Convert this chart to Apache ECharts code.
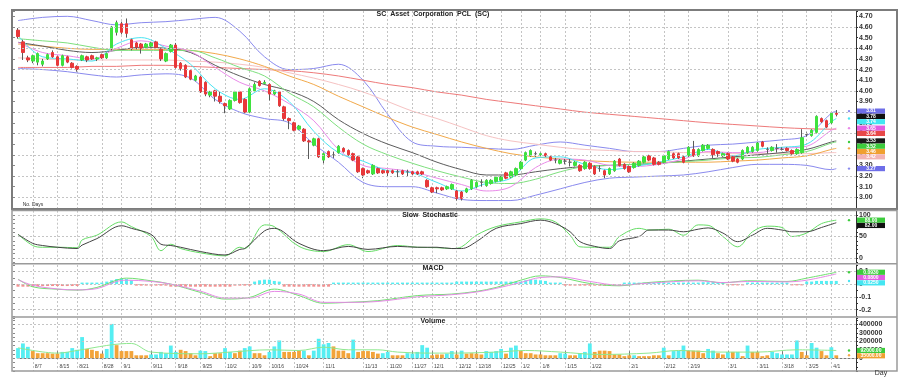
<!DOCTYPE html>
<html><head><meta charset="utf-8">
<script src="https://cdn.jsdelivr.net/npm/echarts@6/dist/echarts.min.js"></script>
<style>html,body{margin:0;padding:0;background:#fff}#c{width:910px;height:388px}</style>
</head><body><div id="c"></div>
<script>
// ---------- categories (trading days) ----------
const dates = ['8/2','8/3','8/4','8/7','8/8','8/9','8/10','8/11','8/15','8/16','8/17','8/18','8/21','8/22','8/23','8/24','8/25','8/28','8/29','8/30','8/31',
'9/1','9/4','9/5','9/6','9/7','9/8','9/11','9/12','9/13','9/14','9/15','9/18','9/19','9/20','9/21','9/22','9/25','9/26','9/27','9/28','9/29',
'10/2','10/3','10/4','10/5','10/6','10/9','10/10','10/11','10/12','10/16','10/17','10/18','10/19','10/20','10/24','10/25','10/26','10/27','10/30','10/31',
'11/1','11/2','11/3','11/6','11/7','11/8','11/9','11/10','11/13','11/14','11/15','11/16','11/17','11/20','11/21','11/22','11/23','11/24','11/27','11/28','11/29','11/30',
'12/1','12/4','12/6','12/7','12/8','12/12','12/13','12/14','12/15','12/18','12/19','12/20','12/21','12/22','12/25','12/26','12/27','12/28',
'1/2','1/3','1/4','1/5','1/8','1/9','1/10','1/11','1/12','1/15','1/16','1/17','1/18','1/19','1/22','1/23','1/24','1/25','1/26','1/29','1/30','1/31',
'2/1','2/2','2/5','2/6','2/7','2/8','2/9','2/12','2/13','2/14','2/15','2/16','2/19','2/20','2/21','2/22','2/23','2/27','2/28','2/29',
'3/1','3/4','3/5','3/6','3/7','3/8','3/11','3/12','3/13','3/14','3/15','3/18','3/19','3/20','3/21','3/22','3/25','3/26','3/27','3/28','3/29',
'4/1','4/2'];
const padCats = ['x1','x2','x3','x4'];
const tickDates = ['8/7','8/15','8/21','8/28','9/1','9/11','9/18','9/25','10/2','10/9','10/16','10/24','11/1','11/13','11/20','11/27','12/1','12/12','12/18','12/25','1/2','1/8','1/15','1/22','2/1','2/12','2/19','3/1','3/11','3/18','3/25','4/1'];

// ---------- price candles ----------
const open = [4.57,4.46,4.31,4.28,4.27,4.25,4.30,4.36,4.32,4.24, 4.32,4.26,4.23,4.29,4.32,4.33,4.30,4.34,4.31,4.40,
4.55,4.63,4.63,4.48,4.45,4.44,4.41,4.42,4.46,4.39, 4.28,4.37,4.43,4.26,4.24,4.19,4.10,4.13,4.08,3.96,
4.00,3.95,3.88,3.83,3.91,3.99,3.92,3.80,4.00,4.09, 4.07,4.06,3.97,3.99,3.85,3.74,3.70,3.64,3.64,3.53,
3.49,3.55,3.35,3.43,3.40,3.42,3.46,3.44,3.41,3.38, 3.27,3.25,3.22,3.27,3.25,3.25,3.25,3.24,3.25,3.24,
3.24,3.24,3.24,3.16,3.09,3.09,3.09,3.08,3.08,3.06, 3.05,3.05,3.08,3.10,3.14,3.11,3.13,3.15,3.16,3.23,
3.19,3.21,3.27,3.35,3.39,3.41,3.40,3.41,3.38,3.35, 3.32,3.34,3.33,3.30,3.30,3.27,3.32,3.29,3.27,3.25,
3.22,3.25,3.36,3.31,3.29,3.28,3.30,3.33,3.39,3.37, 3.33,3.33,3.36,3.41,3.41,3.38,3.39,3.45,3.39,3.44,
3.46,3.45,3.43,3.39,3.41,3.38,3.36,3.36,3.42,3.43, 3.44,3.52,3.45,3.44,3.46,3.45,3.46,3.44,3.41,3.42,
3.59,3.58,3.61,3.74,3.72,3.70,3.79];
const close = [4.51,4.36,4.29,4.33,4.35,4.28,4.34,4.32,4.24,4.33, 4.27,4.22,4.20,4.33,4.29,4.30,4.31,4.31,4.35,4.60,
4.64,4.55,4.54,4.40,4.41,4.40,4.44,4.45,4.41,4.30, 4.35,4.43,4.22,4.21,4.13,4.11,4.14,3.99,3.97,3.99,
3.95,3.90,3.86,3.91,3.99,3.89,3.80,4.02,4.06,4.05, 4.08,3.97,4.00,3.86,3.74,3.72,3.63,3.67,3.53,3.52,
3.55,3.38,3.41,3.38,3.40,3.48,3.43,3.40,3.35,3.24, 3.21,3.23,3.30,3.23,3.23,3.23,3.23,3.24,3.22,3.24,
3.22,3.22,3.22,3.10,3.05,3.08,3.07,3.10,3.12,2.99, 2.99,3.08,3.16,3.14,3.14,3.16,3.16,3.19,3.19,3.18,
3.24,3.27,3.33,3.42,3.44,3.41,3.41,3.39,3.35,3.35, 3.35,3.34,3.33,3.33,3.25,3.33,3.27,3.22,3.27,3.21,
3.27,3.34,3.30,3.27,3.24,3.32,3.34,3.38,3.35,3.31, 3.31,3.39,3.43,3.37,3.37,3.33,3.47,3.39,3.45,3.49,
3.49,3.40,3.41,3.41,3.36,3.34,3.33,3.44,3.47,3.47, 3.51,3.48,3.45,3.47,3.46,3.45,3.44,3.41,3.45,3.56,
3.59,3.63,3.76,3.71,3.66,3.79,3.78];
const low = [4.49,4.29,4.27,4.26,4.24,4.23,4.29,4.31,4.23,4.23, 4.26,4.21,4.18,4.28,4.27,4.29,4.28,4.30,4.30,4.38,
4.52,4.53,4.50,4.38,4.39,4.35,4.40,4.41,4.40,4.28, 4.27,4.36,4.21,4.19,4.12,4.10,4.09,3.98,3.95,3.94,
3.90,3.88,3.79,3.82,3.90,3.88,3.79,3.79,3.99,4.04, 4.06,3.91,3.96,3.85,3.72,3.64,3.62,3.63,3.52,3.36,
3.48,3.37,3.32,3.37,3.37,3.41,3.42,3.39,3.34,3.23, 3.18,3.22,3.21,3.22,3.22,3.19,3.22,3.19,3.21,3.20,
3.21,3.21,3.21,3.09,3.04,3.04,3.06,3.07,3.07,2.97, 2.97,3.04,3.07,3.09,3.10,3.10,3.12,3.14,3.15,3.17,
3.18,3.20,3.26,3.34,3.38,3.38,3.39,3.38,3.34,3.32, 3.31,3.31,3.29,3.29,3.24,3.26,3.26,3.21,3.24,3.18,
3.21,3.24,3.29,3.26,3.23,3.27,3.29,3.32,3.34,3.30, 3.30,3.32,3.35,3.36,3.36,3.32,3.38,3.38,3.38,3.43,
3.45,3.37,3.38,3.38,3.35,3.33,3.32,3.35,3.41,3.42, 3.43,3.47,3.41,3.43,3.42,3.44,3.43,3.40,3.40,3.41,
3.57,3.57,3.60,3.70,3.65,3.69,3.76];
const high = [4.59,4.48,4.33,4.34,4.36,4.30,4.35,4.38,4.33,4.34, 4.33,4.27,4.24,4.34,4.33,4.34,4.32,4.35,4.36,4.61,
4.66,4.65,4.68,4.49,4.46,4.45,4.45,4.46,4.47,4.40, 4.36,4.44,4.45,4.27,4.25,4.20,4.15,4.14,4.09,4.00,
4.01,3.99,3.89,3.92,4.00,4.00,3.93,4.03,4.08,4.10, 4.10,4.07,4.01,4.00,3.86,3.75,3.71,3.68,3.65,3.54,
3.56,3.56,3.42,3.44,3.43,3.49,3.47,3.45,3.42,3.39, 3.28,3.26,3.31,3.28,3.26,3.26,3.26,3.26,3.26,3.26,
3.25,3.25,3.25,3.17,3.10,3.10,3.10,3.11,3.13,3.07, 3.06,3.09,3.17,3.15,3.17,3.17,3.17,3.20,3.20,3.24,
3.25,3.28,3.34,3.43,3.45,3.43,3.42,3.42,3.39,3.37, 3.36,3.36,3.36,3.34,3.31,3.34,3.33,3.30,3.30,3.26,
3.28,3.35,3.37,3.32,3.30,3.33,3.35,3.39,3.40,3.38, 3.34,3.40,3.44,3.42,3.42,3.39,3.48,3.53,3.46,3.50,
3.50,3.46,3.44,3.42,3.42,3.39,3.37,3.45,3.48,3.48, 3.52,3.53,3.47,3.48,3.50,3.47,3.47,3.45,3.46,3.64,
3.61,3.64,3.77,3.75,3.73,3.80,3.82];

// ---------- overlay lines (read every 5 sessions) ----------
const lineDates = ['8/2','8/9','8/17','8/24','8/31','9/7','9/14','9/21','9/28','10/5','10/12','10/20','10/30','11/6','11/13','11/20','11/27','12/4','12/13','12/20','12/27','1/5','1/12','1/19','1/26','2/2','2/9','2/16','2/23','3/4','3/11','3/18','3/25','4/1','4/2'];
const bbUpper  = [4.66,4.69,4.70,4.66,4.62,4.64,4.65,4.67,4.69,4.56,4.32,4.20,4.21,4.25,4.10,3.78,3.52,3.48,3.47,3.46,3.45,3.49,3.52,3.49,3.46,3.43,3.43,3.46,3.49,3.50,3.52,3.54,3.58,3.79,3.81];
const bbLower  = [4.21,4.20,4.18,4.15,4.13,4.15,4.16,4.12,3.92,3.80,3.74,3.70,3.50,3.33,3.14,3.10,3.10,3.04,2.98,2.97,2.97,3.02,3.08,3.14,3.18,3.19,3.20,3.21,3.24,3.28,3.31,3.31,3.30,3.26,3.27];
const maRed    = [4.22,4.22,4.22,4.23,4.23,4.24,4.24,4.23,4.22,4.21,4.20,4.19,4.17,4.14,4.10,4.06,4.03,3.99,3.96,3.92,3.89,3.86,3.83,3.80,3.78,3.76,3.74,3.72,3.70,3.685,3.67,3.655,3.645,3.64,3.64];
const maPink   = [4.31,4.30,4.29,4.29,4.29,4.29,4.29,4.28,4.27,4.25,4.22,4.17,4.12,4.06,3.99,3.90,3.81,3.74,3.66,3.58,3.53,3.50,3.47,3.45,3.44,3.43,3.43,3.42,3.42,3.41,3.41,3.41,3.41,3.42,3.42];
const maOrange = [4.44,4.42,4.40,4.39,4.39,4.39,4.39,4.38,4.35,4.30,4.23,4.14,4.06,3.95,3.85,3.75,3.66,3.59,3.52,3.46,3.41,3.38,3.36,3.345,3.335,3.33,3.33,3.33,3.33,3.34,3.35,3.37,3.39,3.45,3.46];
const maDark   = [4.456,4.42,4.38,4.36,4.38,4.41,4.40,4.36,4.24,4.14,4.06,4.00,3.90,3.73,3.60,3.50,3.42,3.33,3.26,3.21,3.21,3.24,3.27,3.29,3.30,3.31,3.32,3.34,3.36,3.38,3.40,3.42,3.45,3.52,3.53];
const maGreen  = [4.49,4.47,4.45,4.41,4.38,4.38,4.38,4.38,4.31,4.22,4.14,3.98,3.85,3.66,3.50,3.40,3.32,3.25,3.19,3.14,3.13,3.17,3.24,3.29,3.30,3.31,3.32,3.335,3.35,3.37,3.375,3.40,3.43,3.51,3.52];
const maMagenta= [4.456,4.36,4.33,4.30,4.40,4.47,4.42,4.37,4.22,4.08,4.00,3.88,3.72,3.45,3.30,3.27,3.24,3.18,3.12,3.06,3.10,3.28,3.36,3.35,3.30,3.29,3.31,3.36,3.43,3.42,3.42,3.46,3.48,3.63,3.65];
const maCyan   = [4.52,4.32,4.30,4.28,4.44,4.50,4.40,4.25,4.02,3.92,4.02,3.90,3.62,3.42,3.34,3.25,3.23,3.14,3.06,3.13,3.18,3.37,3.38,3.31,3.26,3.29,3.33,3.38,3.45,3.39,3.45,3.47,3.50,3.71,3.74];

// ---------- slow stochastic ----------
const stochDates = ['8/2','8/7','8/9','8/15','8/21','8/22','8/25','9/1','9/5','9/11','9/13','9/15','9/19','9/25','10/2','10/5','10/6','10/12','10/17','10/25','11/1','11/8','11/14','11/22','11/28','12/4','12/8','12/13','12/18','12/22','1/2','1/8','1/11','1/16','1/18','1/23','1/26','1/30','2/5','2/7','2/13','2/16','2/21','2/23','2/29','3/5','3/8','3/13','3/18','3/20','3/25','3/28','4/2'];
const stochK = [55,29,25,25,24,42,53,84,73,50,17,32,22,12,5,25,22,77,73,27,15,31,15,29,25,24,22,26,53,73,84,91,84,53,26,25,25,50,69,65,67,53,77,76,50,26,61,74,71,50,58,80,88];
const stochD = [55,34,29,25,22,30,45,75,69,55,32,29,25,15,7,20,22,63,69,34,17,27,20,27,25,25,22,22,38,69,80,88,80,61,38,27,22,40,50,65,65,61,67,70,58,38,53,69,65,61,61,71,82];

// ---------- MACD ----------
const macdDates = ['8/2','8/7','8/15','8/21','8/25','8/31','9/4','9/11','9/15','9/25','10/2','10/9','10/17','10/25','11/1','11/8','11/16','11/28','12/8','12/18','12/22','1/2','1/8','1/12','1/22','1/30','2/7','2/21','2/29','3/7','3/19','3/25','4/2'];
const macdLine = [0.039,-0.021,-0.040,-0.047,-0.026,0.031,0.047,0.026,0.000,-0.065,-0.117,-0.104,-0.039,-0.090,-0.150,-0.143,-0.130,-0.090,-0.078,-0.057,-0.026,0.031,0.065,0.052,0.005,-0.013,0.013,0.031,0.010,0.026,0.021,0.047,0.093];
const macdSignal = [0.035,-0.009,-0.038,-0.045,-0.035,0.021,0.031,0.021,0.000,-0.055,-0.109,-0.109,-0.057,-0.078,-0.143,-0.143,-0.136,-0.100,-0.083,-0.062,-0.033,0.013,0.052,0.057,0.021,-0.008,0.008,0.026,0.012,0.021,0.018,0.031,0.080];
const macdHist = [-0.020,-0.020,-0.020,-0.020,-0.015,-0.015,-0.015,-0.015,-0.015,-0.015,-0.015,-0.015,-0.015,
0.012,0.012,0.012,0.012,0.012, 0.020,0.030,0.040,0.045,0.040,0.030,
-0.012,-0.012,-0.012,-0.012,-0.012,-0.012,-0.012,
-0.020,-0.020,-0.020,-0.020,-0.020,-0.020,-0.020,-0.020,-0.020,-0.020,-0.020,-0.020,-0.020,
-0.012,-0.012,-0.012,-0.012, 0.020,0.030,0.035,0.035,0.025,0.020,
-0.020,-0.020,-0.020,-0.020,-0.020,-0.020,-0.020,-0.020,-0.020,-0.020,
0.012,0.012,0.012,0.012,0.012,0.012,0.012,0.012,0.012,0.012,0.012,0.012,0.012,0.012,0.012,0.012,0.012,0.012,0.012,0.012,0.012,0.012,0.012,0.012,0.012,
0.020,0.020,0.020,0.020,0.020,0.020,0.020,0.020,0.020,0.020,0.020,0.020,0.020,0.020,
0.030,0.035,0.035,0.030,0.025, 0.012,0.012,0.012,
-0.012,-0.012,-0.012,-0.012,-0.012,-0.012,-0.012,-0.012,-0.012,-0.012,-0.012,-0.012,
0.012,0.012,0.012,0.012,0.012,0.012,0.012,0.012,0.012,0.012,0.012,0.012,0.012,0.012,0.012,0.012,
0.015,0.015,0.015,0.015,0.015, -0.010,-0.010,-0.010,-0.010,
0.012,0.012,0.012,0.012,0.012,0.012,0.012,0.012,0.012, -0.010,-0.010,-0.010,
0.020,0.020,0.025,0.025,0.025,0.025,0.025];

// ---------- volume ----------
const volume = [120000,175000,135000,85000,60000,60000,60000,55000,55000,75000, 75000,120000,100000,250000,110000,100000,85000,55000,110000,405000,
155000,85000,85000,85000,35000,35000,35000,45000,45000,75000, 60000,150000,75000,100000,85000,60000,35000,90000,85000,25000,
60000,60000,120000,75000,60000,90000,120000,140000,60000,60000, 35000,75000,140000,210000,75000,75000,75000,90000,90000,35000,
90000,230000,165000,180000,140000,90000,90000,60000,220000,75000, 85000,85000,75000,55000,60000,75000,35000,35000,35000,60000,
55000,75000,155000,125000,35000,45000,45000,55000,85000,45000, 90000,55000,60000,55000,45000,85000,75000,85000,110000,55000,
125000,150000,85000,60000,60000,45000,45000,35000,35000,35000, 60000,55000,35000,35000,60000,75000,175000,75000,90000,90000,
85000,45000,45000,25000,35000,35000,25000,25000,25000,35000, 35000,125000,35000,85000,90000,150000,90000,90000,90000,60000,
110000,90000,60000,45000,75000,75000,75000,25000,150000,75000, 75000,25000,35000,75000,60000,45000,45000,45000,210000,75000,
35000,180000,125000,85000,35000,130000,35000];
const volUp = [1,1,1,0,0,0,0,0,0,1, 1,1,1,1,0,0,0,0,1,1, 0,0,0,0,0,0,0,1,1,1, 1,1,1,0,0,0,0,1,1,0,
0,0,1,1,0,0,1,1,0,0, 0,1,1,1,0,0,0,0,1,0, 1,1,1,1,0,0,0,0,1,0, 0,0,0,0,1,1,0,0,0,1,
1,1,1,1,0,0,0,1,1,0, 1,0,0,0,0,1,1,1,1,0, 1,1,0,0,0,0,0,0,0,0, 1,1,0,0,1,1,1,0,0,0,
0,0,0,0,0,1,0,0,0,0, 0,1,0,1,1,1,0,0,0,0, 1,1,0,0,1,0,1,0,1,0, 0,0,0,1,1,1,1,1,1,0,
0,1,1,0,0,1,0];
const volMADates = ['8/2','8/15','8/21','8/29','9/1','9/5','9/11','9/25','10/3','10/16','10/25','11/1','11/8','11/16','11/22','11/30','12/8','12/22','1/3','1/12','1/24','2/7','2/15','2/28','3/11','3/21','4/2'];
const volMA = [124000,61000,92000,151000,171000,175000,73000,53000,73000,100000,92000,131000,100000,100000,73000,61000,61000,73000,92000,73000,45000,61000,92000,73000,73000,100000,92000];

// ---------- horizontal grid levels ----------
const priceGrid = [3.0,3.2,3.4,3.6,3.8,4.0,4.2,4.4,4.6];
const stochGrid = [0,50,100];
const macdGrid = [0.1,0,-0.1,-0.2];
const volGrid = [0,200000,400000];

// =====================================================
const cats = dates.concat(padCats);
const tickSet = new Set(tickDates);
const isTick = (i) => tickSet.has(cats[i]);
const pairs = (ds, vs) => ds.map((d, k) => [d, vs[k]]);
const FONT = '"Liberation Sans", Arial, sans-serif';

const C = {
  up:'#3fe23f', down:'#e8383a', wick:'#5a5a5a', doji:'#666',
  bb:'#8a8aee', red:'#ee7a7a', pink:'#f6c2c2', orange:'#f2a94a', dark:'#5c5c5c',
  green:'#7ee07e', magenta:'#e98ae9', cyan:'#49e4f2',
  stK:'#66dd66', stD:'#444', mG:'#6fe06f', mM:'#e68ae6', hPos:'#55eef2', hNeg:'#f29090',
  vUp:'#55eef2', vDn:'#f2a43a', vMA:'#8fe88f', grid:'#c4c4c4'
};

const grids = [
  {left:18, right:54, top:11, height:197},
  {left:18, right:54, top:210.7, height:51.6},
  {left:18, right:54, top:265, height:51},
  {left:18, right:54, top:318, height:53}
];

const xAxes = grids.map((g, gi) => ({
  type:'category', gridIndex:gi, data:cats, boundaryGap:false,
  axisLine:{show: gi===3, lineStyle:{color:'#777'}},
  axisTick:{show: gi===3, inside:true, length:7, interval:(i)=>isTick(i), lineStyle:{color:'#777'}},
  axisLabel:{show: gi===3, inside:true, interval:(i)=>isTick(i), align:'left', margin:2, padding:[0,0,0,2],
    fontSize:5, fontFamily:FONT, color:'#444'},
  splitLine:{show:true, interval:(i)=>isTick(i), lineStyle:{color:C.grid, type:[2,2], width:1}}
}));

const rightLabel = {fontSize:7, fontWeight:'bold', fontFamily:FONT, color:'#333', margin:3};
const yAxes = [
  {type:'value', gridIndex:0, position:'right', min:2.9, max:4.75, interval:0.1,
    axisLine:{show:true, lineStyle:{color:'#333'}}, axisTick:{show:true, length:2, lineStyle:{color:'#333'}},
    splitLine:{show:false},
    axisLabel:Object.assign({}, rightLabel, {formatter:(v)=> (v>2.99 && v<4.71) ? v.toFixed(2) : ''})},
  {type:'value', gridIndex:1, position:'right', min:-10, max:110, interval:10,
    axisLine:{show:true, lineStyle:{color:'#333'}}, axisTick:{show:true, length:2, lineStyle:{color:'#333'}},
    splitLine:{show:false},
    axisLabel:Object.assign({}, rightLabel, {formatter:(v)=> (Math.abs(v)<1e-9||Math.abs(v-50)<1e-9||Math.abs(v-100)<1e-9) ? String(Math.round(v)) : ''})},
  {type:'value', gridIndex:2, position:'right', min:-0.25, max:0.15, interval:0.05,
    axisLine:{show:true, lineStyle:{color:'#333'}}, axisTick:{show:true, length:2, lineStyle:{color:'#333'}},
    splitLine:{show:false},
    axisLabel:Object.assign({}, rightLabel, {formatter:(v)=>{
      const t = Math.round(v*100);
      if (t%10!==0 || t>10) return '';
      return t===0 ? '0' : (t/100).toFixed(1);
    }})},
  {type:'value', gridIndex:3, position:'right', min:-150000, max:475000, interval:50000,
    axisLine:{show:true, lineStyle:{color:'#333'}}, axisTick:{show:true, length:2, lineStyle:{color:'#333'}},
    splitLine:{show:false},
    axisLabel:Object.assign({}, rightLabel, {formatter:(v)=> (v>=0 && v<=400000 && Math.round(v)%100000===0) ? String(Math.round(v)) : ''})}
];
[[2.9,4.75,0.1],[-10,110,10],[-0.25,0.15,0.05],[-150000,475000,50000]].forEach((r, gi) => {
  yAxes.push({type:'value', gridIndex:gi, position:'left', offset:5, min:r[0], max:r[1], interval:r[2],
    axisLine:{show:false}, axisTick:{show:true, inside:true, length:2, lineStyle:{color:'#888'}},
    axisLabel:{show:false}, splitLine:{show:false}});
});

function lineS(name, ds, vs, color, gi, width, z) {
  return {name, type:'line', xAxisIndex:gi, yAxisIndex:gi, data:pairs(ds, vs), smooth:0.35,
    showSymbol:false, symbol:'none', lineStyle:{color, width:width||1}, z:z||2, silent:true};
}
function gridS(gi, levels) {
  return {type:'line', xAxisIndex:gi, yAxisIndex:gi, data:[], z:1, silent:true,
    markLine:{silent:true, symbol:'none', label:{show:false}, animation:false,
      lineStyle:{color:C.grid, type:[2,2], width:1}, data:levels.map(v=>({yAxis:v}))}};
}

const wickData = open.map((o,k)=>[o, close[k], low[k], high[k]]);
const bodyData = open.map((o,k)=>[o, close[k], Math.min(o, close[k]), Math.max(o, close[k])]);

const series = [
  gridS(0, priceGrid), gridS(1, stochGrid), gridS(2, macdGrid), gridS(3, volGrid),
  lineS('bbU', lineDates, bbUpper, C.bb, 0),
  lineS('bbL', lineDates, bbLower, C.bb, 0),
  lineS('red', lineDates, maRed, C.red, 0),
  lineS('pink', lineDates, maPink, C.pink, 0),
  lineS('orange', lineDates, maOrange, C.orange, 0),
  lineS('dark', lineDates, maDark, C.dark, 0),
  lineS('green', lineDates, maGreen, C.green, 0),
  lineS('magenta', lineDates, maMagenta, C.magenta, 0),
  lineS('cyan', lineDates, maCyan, C.cyan, 0),
  {type:'candlestick', xAxisIndex:0, yAxisIndex:0, data:wickData, barWidth:1, z:3, silent:true,
    itemStyle:{color:C.wick, color0:C.wick, borderColor:C.wick, borderColor0:C.wick, borderColorDoji:C.wick, borderWidth:1}},
  {type:'candlestick', xAxisIndex:0, yAxisIndex:0, data:bodyData, barWidth:3, z:4, silent:true,
    itemStyle:{color:C.up, color0:C.down, borderColor:C.up, borderColor0:C.down, borderColorDoji:C.doji, borderWidth:1}},
  lineS('stK', stochDates, stochK, C.stK, 1),
  lineS('stD', stochDates, stochD, C.stD, 1),
  {type:'bar', xAxisIndex:2, yAxisIndex:2, barWidth:3, z:2, silent:true,
    data: macdHist.map(v=>({value:v, itemStyle:{color: v>=0 ? C.hPos : C.hNeg}}))},
  lineS('macd', macdDates, macdLine, C.mG, 2),
  lineS('signal', macdDates, macdSignal, C.mM, 2),
  {type:'bar', xAxisIndex:3, yAxisIndex:3, barWidth:3.8, z:2, silent:true,
    data: volume.map((v,k)=>({value:v, itemStyle:{color: volUp[k] ? C.vUp : C.vDn}}))},
  lineS('volMA', volMADates, volMA, C.vMA, 3, 1, 3)
];

const chart = echarts.init(document.getElementById('c'));
chart.setOption({
  animation:false, backgroundColor:'#fff',
  grid:grids, xAxis:xAxes, yAxis:yAxes, series:series
});

// ---------- frames, titles, value tags ----------
const last = a => a[a.length-1];
const txt = (x, y, text, size, extra) => Object.assign({type:'text', x, y, z:120, silent:true,
  style:{text, fill:'#222', font:'bold '+size+'px '+FONT, align:'center', verticalAlign:'middle'}}, extra||{});
const graphics = [
  {type:'rect', shape:{x:12, y:10, width:885, height:199}, style:{fill:'none', stroke:'#7c7c7c', lineWidth:2}, z:110, silent:true},
  {type:'rect', shape:{x:12, y:210.5, width:885, height:160.5}, style:{fill:'none', stroke:'#9a9a9a', lineWidth:1.5}, z:110, silent:true},
  {type:'line', shape:{x1:12, y1:263.8, x2:897, y2:263.8}, style:{stroke:'#9a9a9a', lineWidth:1.5}, z:110, silent:true},
  {type:'line', shape:{x1:12, y1:317, x2:897, y2:317}, style:{stroke:'#9a9a9a', lineWidth:1.5}, z:110, silent:true},
  txt(433, 14, 'SC  Asset  Corporation  PCL  (SC)', 7),
  txt(430, 215.5, 'Slow  Stochastic', 7),
  txt(433, 268.5, 'MACD', 7),
  txt(433, 321.5, 'Volume', 7),
  txt(33, 205, 'No. Days', 5, {style:{text:'No. Days', fill:'#333', font:'5px '+FONT, align:'center', verticalAlign:'middle'}}),
  txt(881, 373, 'Day', 7, {style:{text:'Day', fill:'#333', font:'7px '+FONT, align:'center', verticalAlign:'middle'}})
];

const tagGroups = [
  {axis:0, fmt:v=>v.toFixed(2), items:[
    {v:last(bbUpper), bg:'#6e6ee8', dot:C.bb}, {v:last(close), bg:'#111'}, {v:last(maCyan), bg:'#44e6f2', dot:C.cyan},
    {v:last(maMagenta), bg:'#e25ee2', dot:C.magenta}, {v:last(maRed), bg:'#e84848'}, {v:last(maDark), bg:'#1a1a1a'},
    {v:last(maGreen), bg:'#3ccc3c', dot:'#3ccc3c'}, {v:last(maOrange), bg:'#f0a030', dot:C.orange}, {v:last(maPink), bg:'#f3b4b4'},
    {v:last(bbLower), bg:'#6e6ee8', dot:C.bb}]},
  {axis:1, fmt:v=>v.toFixed(2), items:[{v:last(stochK), bg:'#3ccc3c', dot:'#3ccc3c'}, {v:last(stochD), bg:'#111'}]},
  {axis:2, fmt:v=>v.toFixed(4), items:[{v:last(macdLine), bg:'#3ccc3c', dot:'#3ccc3c'}, {v:last(macdSignal), bg:'#e25ee2'}, {v:last(macdHist), bg:'#44e6f2', dot:C.cyan}]},
  {axis:3, fmt:v=>v.toFixed(2), items:[{v:last(volMA), bg:'#3ccc3c', dot:'#3ccc3c'}, {v:last(volume), bg:'#f0a030', dot:C.orange}]}
];
tagGroups.forEach(g => {
  const arr = g.items.map(it => Object.assign({}, it, {y: chart.convertToPixel({yAxisIndex:g.axis}, it.v)}));
  arr.forEach(it => {
    if (it.dot) graphics.push({type:'circle', shape:{cx:849, cy:it.y, r:1.2}, style:{fill:it.dot}, z:114, silent:true});
  });
  arr.sort((a,b)=>a.y-b.y);
  for (let k=1; k<arr.length; k++) if (arr[k].y < arr[k-1].y + 5.3) arr[k].y = arr[k-1].y + 5.3;
  arr.forEach(it => {
    graphics.push({type:'rect', shape:{x:857, y:it.y-2.6, width:28, height:5.2}, style:{fill:it.bg}, z:115, silent:true});
    graphics.push({type:'text', x:871, y:it.y, z:116, silent:true,
      style:{text:g.fmt(it.v), fill:'#fff', font:'bold 5px '+FONT, align:'center', verticalAlign:'middle'}});
  });
});
chart.setOption({graphic:graphics});
</script>
</body></html>
